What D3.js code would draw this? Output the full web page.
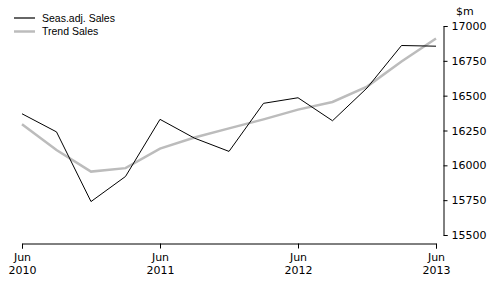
<!DOCTYPE html>
<html><head><meta charset="utf-8">
<script src="https://cdn.jsdelivr.net/npm/d3@7"></script>
<style>body{margin:0;background:#fff}svg{display:block}</style>
</head><body>
<svg id="c" width="496" height="284"></svg>
<script>
const quarters = ["Jun 2010","Sep 2010","Dec 2010","Mar 2011","Jun 2011","Sep 2011","Dec 2011","Mar 2012","Jun 2012","Sep 2012","Dec 2012","Mar 2013","Jun 2013"];
const seasAdj = [16370,16240,15740,15920,16330,16195,16100,16445,16485,16320,16555,16860,16855];
const trend   = [16295,16110,15955,15980,16120,16200,16265,16330,16400,16455,16565,16745,16910];
const yTicks = [15500,15750,16000,16250,16500,16750,17000];
const xTickIdx = [0,4,8,12];
const xTickLabels = [["Jun","2010"],["Jun","2011"],["Jun","2012"],["Jun","2013"]];
const seriesNames = ["Seas.adj. Sales","Trend Sales"];

const svg = d3.select("#c");
const font = "DejaVu Sans, Verdana, sans-serif";
const x = d3.scaleLinear().domain([0, quarters.length-1]).range([22, 436]);
const y = d3.scaleLinear().domain([15500, 17000]).range([235, 26]);

// Y axis (right)
const ya = svg.append("g").attr("transform","translate(443.5,0)")
  .call(d3.axisRight(y).tickValues(yTicks).tickFormat(d3.format("d")).tickSize(4).tickPadding(4));
ya.selectAll("text").attr("font-family",font).attr("font-size","11px").attr("fill","#000");
ya.selectAll("path,line").attr("stroke","#000");
ya.select(".domain").attr("stroke","#000");

svg.append("text").attr("x",456).attr("y",15).attr("font-family",font).attr("font-size","11px").text("$m");

// X axis
const xa = svg.append("g").attr("transform","translate(0,243.5)")
  .call(d3.axisBottom(x).tickValues(xTickIdx).tickSize(5).tickFormat(""));
xa.selectAll("path,line").attr("stroke","#000");
xa.selectAll(".tick text").remove();
xa.selectAll(".tick").each(function(d,i){
  const t = d3.select(this).append("text").attr("font-family",font).attr("font-size","11px")
    .attr("text-anchor","middle").attr("fill","#000");
  t.append("tspan").attr("x",0).attr("y",17.5).text(xTickLabels[i][0]);
  t.append("tspan").attr("x",0).attr("y",30).text(xTickLabels[i][1]);
});

const line = d3.line().x((d,i)=>x(i)).y(d=>y(d));
svg.append("path").datum(trend).attr("d",line).attr("fill","none").attr("stroke","#bcbcbc").attr("stroke-width",2.5);
svg.append("path").datum(seasAdj).attr("d",line).attr("fill","none").attr("stroke","#000").attr("stroke-width",1);

// Legend
const lg = svg.append("g");
const lstyles = [{c:"#000",w:1.2},{c:"#bcbcbc",w:2.5}];
seriesNames.forEach((n,i)=>{
  const yy = 18 + i*13.5;
  lg.append("line").attr("x1",14).attr("x2",35).attr("y1",yy).attr("y2",yy).attr("stroke",lstyles[i].c).attr("stroke-width",lstyles[i].w);
  lg.append("text").attr("x",42).attr("y",yy+3.8).attr("font-family","Liberation Sans, Arial, sans-serif").attr("font-size","10.5px").text(n);
});
</script>
</body></html>
